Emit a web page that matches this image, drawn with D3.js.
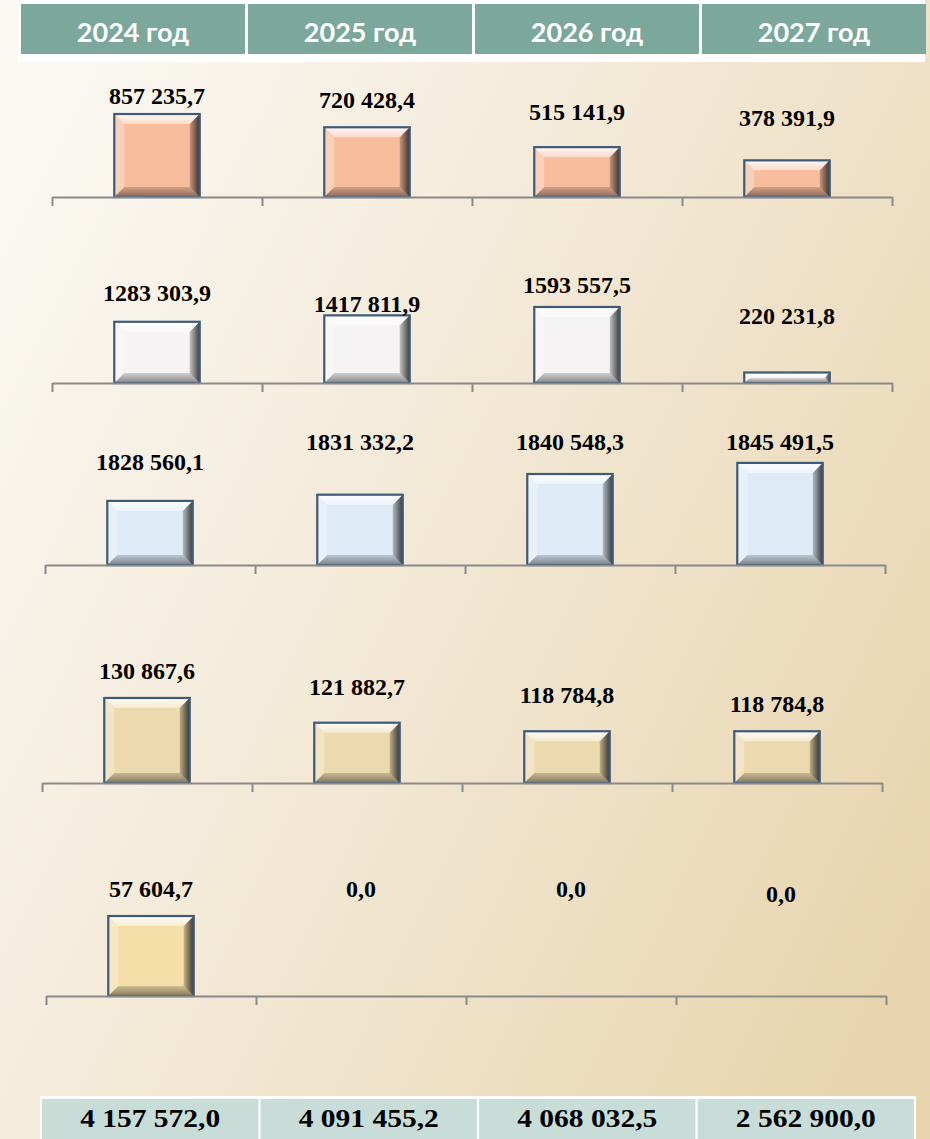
<!DOCTYPE html>
<html>
<head>
<meta charset="utf-8">
<script src="https://cdn.jsdelivr.net/npm/d3@7"></script>
<style>
body { margin: 0; padding: 0; }
svg { display: block; }
</style>
</head>
<body>
<div id="chart"></div>
<script>
// data
var years = ["2024 год", "2025 год", "2026 год", "2027 год"];
var row1 = [857235.7, 720428.4, 515141.9, 378391.9];
var row2 = [1283303.9, 1417811.9, 1593557.5, 220231.8];
var row3 = [1828560.1, 1831332.2, 1840548.3, 1845491.5];
var row4 = [130867.6, 121882.7, 118784.8, 118784.8];
var row5 = [57604.7, 0, 0, 0];
var totals = [4157572.0, 4091455.2, 4068032.5, 2562900.0];

var rows = [row1, row2, row3, row4, row5];

// layout
var w = 930, h = 1139;
var rowBase = [197, 383, 565, 783, 996];
var rowLeft = [52, 52, 45, 42, 46];
var rowWidth = 840;
var rowDomain = [[0, 1e6], [0, 2e6], [1.8e6, 1.85e6], [1e5, 1.4e5], [0, 6e4]];
var rowSpan = [96.8, 95.4, 112.2, 110.2, 83.3];
var labelGap = [[10, 19, 27, 34], [21, 3, 14, 48], [31, 45, 24, 13], [19, 28, 28, 19], [19, 99, 99, 94]];
var fills = ["#f7bd9d", "#f5f3f3", "#deebf6", "#ecd9ad", "#f4dfa9"];

var ru = d3.formatLocale({decimal: ",", thousands: " ", grouping: [3], currency: ["", ""]});
var fmtTotal = ru.format(",.1f");
function fmtRow(v) {
    var s = v.toFixed(1).split(".");
    var n = s[0];
    if (n.length > 3) n = n.slice(0, -3) + " " + n.slice(-3);
    return n + "," + s[1];
}

var svg = d3.select("#chart").append("svg")
    .attr("width", w)
    .attr("height", h);

var defs = svg.append("defs");
var bg = defs.append("linearGradient").attr("id", "bg")
    .attr("x1", "0").attr("y1", "0.2").attr("x2", "1").attr("y2", "0.8");
bg.append("stop").attr("offset", "0").attr("stop-color", "#faf8f2");
bg.append("stop").attr("offset", "0.5").attr("stop-color", "#f2e7d3");
bg.append("stop").attr("offset", "1").attr("stop-color", "#e8d5ae");

var rg = defs.append("linearGradient").attr("id", "rside")
    .attr("x1", "0").attr("y1", "0").attr("x2", "1").attr("y2", "0");
rg.append("stop").attr("offset", "0").attr("stop-color", "#000").attr("stop-opacity", 0.2);
rg.append("stop").attr("offset", "1").attr("stop-color", "#000").attr("stop-opacity", 0.75);

var tg = defs.append("linearGradient").attr("id", "tside")
    .attr("x1", "0").attr("y1", "0").attr("x2", "0").attr("y2", "1");
tg.append("stop").attr("offset", "0").attr("stop-color", "#fff").attr("stop-opacity", 0.9);
tg.append("stop").attr("offset", "1").attr("stop-color", "#fff").attr("stop-opacity", 0.45);

var bgrad = defs.append("linearGradient").attr("id", "bside")
    .attr("x1", "0").attr("y1", "0").attr("x2", "0").attr("y2", "1");
bgrad.append("stop").attr("offset", "0").attr("stop-color", "#000").attr("stop-opacity", 0.15);
bgrad.append("stop").attr("offset", "1").attr("stop-color", "#000").attr("stop-opacity", 0.45);

svg.append("rect").attr("width", w).attr("height", h).attr("fill", "url(#bg)");

// header
var head = d3.scaleBand().domain(years).range([21, 926]).paddingInner(0.013);
svg.append("rect").attr("x", 18).attr("y", 0).attr("width", 907).attr("height", 62).attr("fill", "#fff");
svg.selectAll(".hcell").data(years).enter().append("rect")
    .attr("class", "hcell")
    .attr("x", function(d) { return head(d); })
    .attr("y", 4)
    .attr("width", head.bandwidth())
    .attr("height", 50)
    .attr("fill", "#7ca89c");
svg.selectAll(".htext").data(years).enter().append("text")
    .attr("class", "htext")
    .attr("x", function(d) { return head(d) + head.bandwidth() / 2; })
    .attr("y", 42)
    .attr("text-anchor", "middle")
    .attr("fill", "#fff")
    .style("font-family", "Lato, 'Open Sans', sans-serif")
    .style("font-weight", "bold")
    .style("font-size", "27px")
    .text(function(d) { return d; });

function bevel(g, x, y, bw, bh, fill) {
    var b = Math.min(10, bh / 2.2);
    g.append("rect").attr("x", x).attr("y", y).attr("width", bw).attr("height", bh).attr("fill", fill);
    var P = function(pts) { return pts.map(function(p) { return p.join(","); }).join(" "); };
    g.append("polygon").attr("points", P([[x, y], [x + bw, y], [x + bw - b, y + b], [x + b, y + b]])).attr("fill", "url(#tside)");
    g.append("polygon").attr("points", P([[x, y], [x + b, y + b], [x + b, y + bh - b], [x, y + bh]])).attr("fill", "#fff").attr("fill-opacity", 0.3);
    g.append("polygon").attr("points", P([[x + bw, y], [x + bw, y + bh], [x + bw - b, y + bh - b], [x + bw - b, y + b]])).attr("fill", "url(#rside)");
    g.append("polygon").attr("points", P([[x, y + bh], [x + bw, y + bh], [x + bw - b, y + bh - b], [x + b, y + bh - b]])).attr("fill", "url(#bside)");
    g.append("rect").attr("x", x).attr("y", y).attr("width", bw).attr("height", bh)
        .attr("fill", "none").attr("stroke", "#3d5a7a").attr("stroke-width", 2.2);
}

rows.forEach(function(vals, r) {
    var g = svg.append("g");
    var x = d3.scaleBand().domain(years).range([rowLeft[r], rowLeft[r] + rowWidth])
        .paddingInner(0.593).paddingOuter(0.2965);
    var xt = d3.scaleLinear().domain([0, 4]).range([rowLeft[r], rowLeft[r] + rowWidth]);
    var y = d3.scaleLinear().domain(rowDomain[r]).range([rowBase[r], rowBase[r] - rowSpan[r]]);

    vals.forEach(function(v, i) {
        if (v <= rowDomain[r][0]) return;
        var top = y(v);
        bevel(g, x(years[i]), top, x.bandwidth(), rowBase[r] - top, fills[r]);
    });

    var ax = g.append("g")
        .attr("transform", "translate(0," + rowBase[r] + ")")
        .call(d3.axisBottom(xt).tickValues([0, 1, 2, 3, 4]).tickSize(9).tickSizeOuter(0).tickFormat(""));
    ax.selectAll("path, line").attr("stroke", "#8a8a8a").attr("stroke-width", 2);

    g.selectAll(".lbl").data(vals).enter().append("text")
        .attr("x", function(d, i) { return x(years[i]) + x.bandwidth() / 2; })
        .attr("y", function(d, i) { return Math.min(y(Math.max(d, rowDomain[r][0])), rowBase[r]) - labelGap[r][i]; })
        .attr("text-anchor", "middle")
        .style("font-family", "'Liberation Serif', 'Times New Roman', serif")
        .style("font-weight", "bold")
        .style("font-size", "24px")
        .attr("fill", "#000")
        .text(function(d) { return fmtRow(d); });
});

// totals
var tot = d3.scaleBand().domain(years).range([42, 914]).paddingInner(0.01);
svg.append("rect").attr("x", 40).attr("y", 1096).attr("width", 876).attr("height", 50).attr("fill", "#fff");
svg.selectAll(".tcell").data(totals).enter().append("rect")
    .attr("x", function(d, i) { return tot(years[i]); })
    .attr("y", 1099)
    .attr("width", tot.bandwidth())
    .attr("height", 45)
    .attr("fill", "#c8dcd8");
svg.selectAll(".ttext").data(totals).enter().append("text")
    .attr("transform", function(d, i) {
        return "translate(" + (tot(years[i]) + tot.bandwidth() / 2) + ",1127) scale(1.18,1)";
    })
    .attr("text-anchor", "middle")
    .style("font-family", "'Liberation Serif', 'Times New Roman', serif")
    .style("font-weight", "bold")
    .style("font-size", "25px")
    .text(function(d) { return fmtTotal(d); });
</script>
</body>
</html>
